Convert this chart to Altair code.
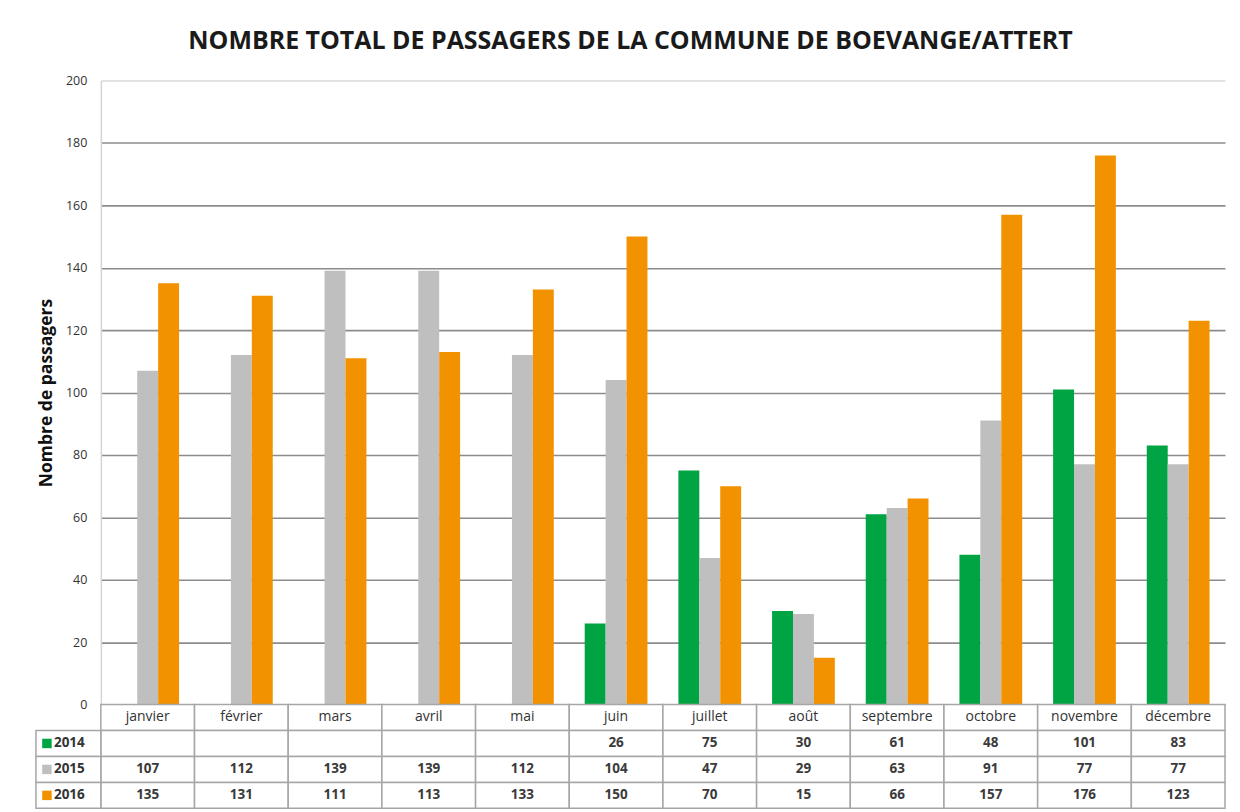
import altair as alt
import pandas as pd

months = ["janvier", "février", "mars", "avril", "mai", "juin", "juillet",
          "août", "septembre", "octobre", "novembre", "décembre"]
years = ["2014", "2015", "2016"]
v2014 = [None, None, None, None, None, 26, 75, 30, 61, 48, 101, 83]
v2015 = [107, 112, 139, 139, 112, 104, 47, 29, 63, 91, 77, 77]
v2016 = [135, 131, 111, 113, 133, 150, 70, 15, 66, 157, 176, 123]
colors = ["#00a443", "#bfbfbf", "#f39200"]
y_ticks = list(range(0, 201, 20))

FONT = "Open Sans"
series = {"2014": v2014, "2015": v2015, "2016": v2016}

bar_rows = []
for y in years:
    for m, v in zip(months, series[y]):
        if v is not None:
            bar_rows.append({"month": m, "year": y, "value": v})
bars_df = pd.DataFrame(bar_rows)

table_rows = []
for m in months:
    table_rows.append({"month": m, "row": "mois", "label": m})
for y in years:
    for m, v in zip(months, series[y]):
        table_rows.append({"month": m, "row": y, "label": "" if v is None else str(v)})
table_df = pd.DataFrame(table_rows)
years_df = pd.DataFrame({"row": years})

row_domain = ["mois"] + years
W, H = 1126, 625
ROW_H = 26

bars = alt.Chart(bars_df).mark_bar().encode(
    x=alt.X("month:N", sort=months,
            scale=alt.Scale(paddingInner=0.33, paddingOuter=0.165), axis=None),
    xOffset=alt.XOffset("year:N", scale=alt.Scale(domain=years)),
    y=alt.Y("value:Q", scale=alt.Scale(domain=[0, 200], nice=False),
            axis=alt.Axis(values=y_ticks, title="Nombre de passagers",
                          titleFont=FONT, titleFontSize=17.5, titleFontWeight="bold",
                          titleColor="#111111", titlePadding=10,
                          labelFont=FONT, labelFontSize=12.5, labelColor="#333333",
                          labelPadding=14, ticks=False,
                          domain=True, domainColor="#d4d4d4", domainWidth=1.5,
                          gridColor=alt.condition("datum.value == 200",
                                                  alt.value("#d9d9d9"),
                                                  alt.value("#8c8c8c")),
                          gridWidth=1.6)),
    color=alt.Color("year:N", scale=alt.Scale(domain=years, range=colors), legend=None),
).properties(width=W, height=H)

x_tab = alt.X("month:N", sort=months, scale=alt.Scale(paddingInner=0, paddingOuter=0), axis=None)
y_tab = alt.Y("row:N", sort=row_domain,
              scale=alt.Scale(domain=row_domain, paddingInner=0, paddingOuter=0), axis=None)

cells = alt.Chart(table_df).mark_rect(fill="white", stroke="#a6a6a6", strokeWidth=1.5).encode(
    x=x_tab, y=y_tab)
head_text = alt.Chart(table_df).transform_filter("datum.row == 'mois'").mark_text(
    font=FONT, fontSize=14, color="#333333").encode(x=x_tab, y=y_tab, text="label:N")
val_text = alt.Chart(table_df).transform_filter("datum.row != 'mois'").mark_text(
    font=FONT, fontSize=13.5, fontWeight="bold", color="#3a3a3a").encode(
    x=x_tab, y=y_tab, text="label:N")
left_cells = alt.Chart(years_df).mark_rect(fill="white", stroke="#a6a6a6", strokeWidth=1.5).encode(
    x=alt.value(-65), x2=alt.value(0), y=y_tab)
swatches = alt.Chart(years_df).mark_square(size=90, opacity=1).encode(
    x=alt.value(-54), y=y_tab,
    color=alt.Color("row:N", scale=alt.Scale(domain=years, range=colors), legend=None))
year_text = alt.Chart(years_df).mark_text(font=FONT, fontSize=13.5, fontWeight="bold",
                                          color="#333333", align="left").encode(
    x=alt.value(-47), y=y_tab, text="row:N")

table = alt.layer(cells, head_text, val_text, left_cells, swatches, year_text).properties(
    width=W, height=ROW_H * len(row_domain))

chart = alt.vconcat(bars, table, spacing=0, bounds="flush").properties(
    title=alt.TitleParams("NOMBRE TOTAL DE PASSAGERS DE LA COMMUNE DE BOEVANGE/ATTERT",
                          font=FONT, fontSize=25, fontWeight="bold", color="#1a1a1a",
                          anchor="middle", offset=21),
    padding={"left": 27, "right": 6, "top": 20, "bottom": 4},
    background="white",
).configure_view(stroke=None).resolve_scale(color="independent")

chart.save("out.html", embed_options={"renderer": "svg", "actions": False})
